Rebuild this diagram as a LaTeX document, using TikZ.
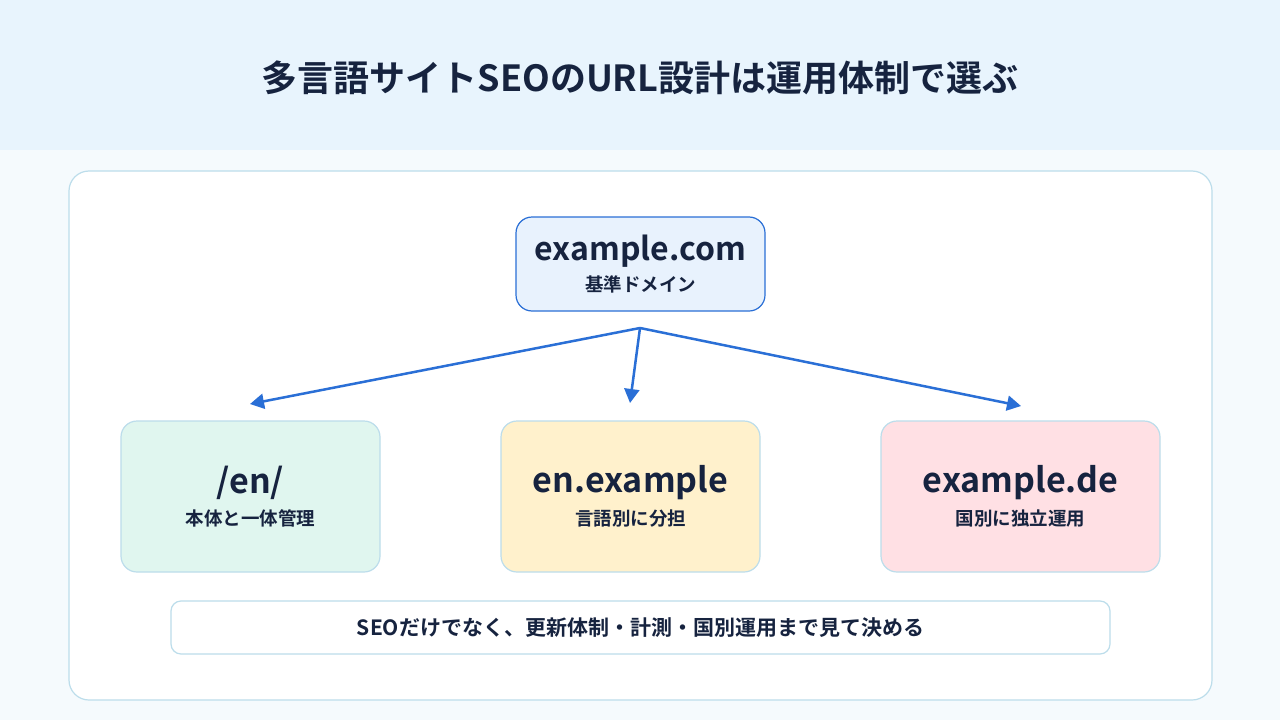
\documentclass[tikz,border=0pt]{standalone}
\usepackage{fontspec}
\setmainfont{Noto Sans CJK JP}[BoldFont={* Bold}]
\usetikzlibrary{arrows.meta}
\definecolor{hdr}{HTML}{E8F4FD}
\definecolor{bg}{HTML}{F5FAFD}
\definecolor{ink}{HTML}{16233F}
\definecolor{edge}{HTML}{BCDDEB}
\definecolor{blu}{HTML}{2A6FD6}
\definecolor{topf}{HTML}{E8F2FD}
\definecolor{grn}{HTML}{E0F6EF}
\definecolor{yel}{HTML}{FFF1CC}
\definecolor{pnk}{HTML}{FFE0E4}
\tikzset{
 card/.style={draw=edge,line width=1.2pt,rounded corners=16pt,minimum width=259pt,minimum height=151pt,align=center,text=ink,font=\bfseries},
 arr/.style={draw=blu,line width=2.5pt,-{Triangle[length=14pt,width=15pt]}}
}
\begin{document}
\begin{tikzpicture}[x=1pt,y=-1pt]
\useasboundingbox (0,0) rectangle (1280,720);
\fill[bg] (0,0) rectangle (1280,720);
\fill[hdr] (0,0) rectangle (1280,150);
\node[text=ink,font=\bfseries\fontsize{36}{40}\selectfont] (title) at (640,78) {多言語サイトSEOのURL設計は運用体制で選ぶ};
\draw[edge,fill=white,line width=1.2pt,rounded corners=20pt] (69,171) rectangle (1212,700);
\node[draw=blu,fill=topf,line width=1.2pt,rounded corners=16pt,minimum width=249pt,minimum height=94pt,align=center,text=ink,font=\bfseries] (top) at (640.5,264)
 {{\fontsize{32}{34}\selectfont example.com}\\[8pt]{\fontsize{18.5}{20}\selectfont 基準ドメイン}};
\coordinate (hub) at (640,328);
\node[card,fill=grn] (a) at (250.5,496.5) {{\fontsize{34}{36}\selectfont /en/}\\[9pt]{\fontsize{18.5}{20}\selectfont 本体と一体管理}};
\node[card,fill=yel] (b) at (630.5,496.5) {{\fontsize{34}{36}\selectfont en.example}\\[9pt]{\fontsize{18.5}{20}\selectfont 言語別に分担}};
\node[card,fill=pnk,minimum width=279pt] (c) at (1020.5,496.5) {{\fontsize{34}{36}\selectfont example.de}\\[9pt]{\fontsize{18.5}{20}\selectfont 国別に独立運用}};
\coordinate (ta) at (250,404);
\coordinate (tb) at (630,403);
\coordinate (tc) at (1021,406);
\draw[arr] (hub) -- (ta);
\draw[arr] (hub) -- (tb);
\draw[arr] (hub) -- (tc);
\node[draw=edge,fill=white,line width=1.2pt,rounded corners=10pt,minimum width=939pt,minimum height=53pt,text=ink,font=\bfseries\fontsize{21}{24}\selectfont] (note) at (640.5,627.5) {SEOだけでなく、更新体制・計測・国別運用まで見て決める};
\end{tikzpicture}
\end{document}
